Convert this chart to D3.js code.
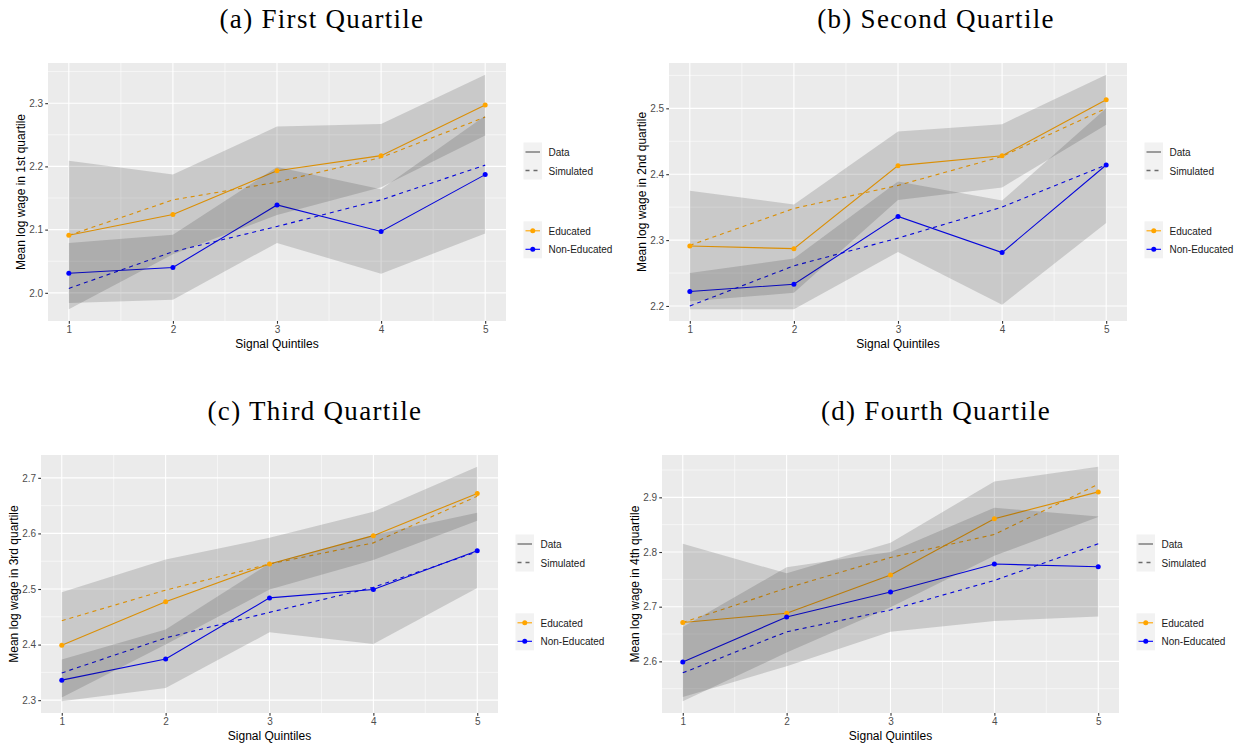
<!DOCTYPE html>
<html>
<head>
  <meta charset="utf-8">
  <script src="https://d3js.org/d3.v7.min.js"></script>
  <style>
    body { margin: 0; background: #fff; }
    text { font-family: "Liberation Sans", Arial, sans-serif; }
    .title { font-family: "Liberation Serif", "Times New Roman", serif; letter-spacing: 1.3px; }
  </style>
</head>
<body>
<script>
  "use strict";

  var quintiles = [1, 2, 3, 4, 5];

  // (a) first quartile
  var q1Ticks   = [2.0, 2.1, 2.2, 2.3];
  var q1EduData = [2.091, 2.124, 2.193, 2.217, 2.297];
  var q1EduSim  = [2.091, 2.147, 2.175, 2.214, 2.278];
  var q1NonData = [2.031, 2.040, 2.139, 2.097, 2.187];
  var q1NonSim  = [2.007, 2.065, 2.105, 2.147, 2.202];
  var q1EduLo   = [1.974, 2.061, 2.123, 2.167, 2.249];
  var q1EduHi   = [2.209, 2.187, 2.263, 2.267, 2.345];
  var q1NonLo   = [1.984, 1.989, 2.079, 2.030, 2.094];
  var q1NonHi   = [2.079, 2.092, 2.199, 2.164, 2.280];

  // (b) second quartile
  var q2Ticks   = [2.2, 2.3, 2.4, 2.5];
  var q2EduData = [2.291, 2.287, 2.413, 2.428, 2.513];
  var q2EduSim  = [2.292, 2.348, 2.383, 2.427, 2.500];
  var q2NonData = [2.222, 2.233, 2.336, 2.281, 2.414];
  var q2NonSim  = [2.200, 2.261, 2.303, 2.350, 2.414];
  var q2EduLo   = [2.207, 2.220, 2.361, 2.380, 2.475];
  var q2EduHi   = [2.375, 2.354, 2.465, 2.476, 2.551];
  var q2NonLo   = [2.195, 2.195, 2.282, 2.202, 2.326];
  var q2NonHi   = [2.250, 2.272, 2.389, 2.360, 2.500];

  // (c) third quartile
  var q3Ticks   = [2.3, 2.4, 2.5, 2.6, 2.7];
  var q3EduData = [2.399, 2.477, 2.545, 2.596, 2.672];
  var q3EduSim  = [2.443, 2.498, 2.545, 2.583, 2.667];
  var q3NonData = [2.336, 2.374, 2.484, 2.499, 2.569];
  var q3NonSim  = [2.349, 2.412, 2.458, 2.503, 2.567];
  var q3EduLo   = [2.305, 2.400, 2.499, 2.552, 2.623];
  var q3EduHi   = [2.494, 2.553, 2.592, 2.639, 2.720];
  var q3NonLo   = [2.298, 2.322, 2.422, 2.401, 2.502];
  var q3NonHi   = [2.373, 2.427, 2.546, 2.597, 2.637];

  // (d) fourth quartile
  var q4Ticks   = [2.6, 2.7, 2.8, 2.9];
  var q4EduData = [2.671, 2.688, 2.758, 2.861, 2.910];
  var q4EduSim  = [2.671, 2.734, 2.790, 2.832, 2.924];
  var q4NonData = [2.599, 2.681, 2.727, 2.778, 2.773];
  var q4NonSim  = [2.579, 2.654, 2.694, 2.748, 2.815];
  var q4EduLo   = [2.527, 2.616, 2.699, 2.793, 2.864];
  var q4EduHi   = [2.815, 2.761, 2.817, 2.929, 2.956];
  var q4NonLo   = [2.535, 2.591, 2.654, 2.674, 2.682];
  var q4NonHi   = [2.663, 2.772, 2.800, 2.881, 2.865];

  var eduColor = "#FFA500",
      nonColor = "#0000FF";

  var panels = [
    { title: "(a) First Quartile", ylab: "Mean log wage in 1st quartile",
      left: 48, right: 506, top: 63, bottom: 321, titleX: 322, titleY: 28,
      ticks: q1Ticks, eduData: q1EduData, eduSim: q1EduSim, nonData: q1NonData, nonSim: q1NonSim,
      eduLo: q1EduLo, eduHi: q1EduHi, nonLo: q1NonLo, nonHi: q1NonHi },
    { title: "(b) Second Quartile", ylab: "Mean log wage in 2nd quartile",
      left: 669, right: 1127, top: 63, bottom: 321, titleX: 936, titleY: 28,
      ticks: q2Ticks, eduData: q2EduData, eduSim: q2EduSim, nonData: q2NonData, nonSim: q2NonSim,
      eduLo: q2EduLo, eduHi: q2EduHi, nonLo: q2NonLo, nonHi: q2NonHi },
    { title: "(c) Third Quartile", ylab: "Mean log wage in 3rd quartile",
      left: 41, right: 498, top: 455, bottom: 713, titleX: 315, titleY: 420,
      ticks: q3Ticks, eduData: q3EduData, eduSim: q3EduSim, nonData: q3NonData, nonSim: q3NonSim,
      eduLo: q3EduLo, eduHi: q3EduHi, nonLo: q3NonLo, nonHi: q3NonHi },
    { title: "(d) Fourth Quartile", ylab: "Mean log wage in 4th quartile",
      left: 662, right: 1119, top: 455, bottom: 713, titleX: 936, titleY: 420,
      ticks: q4Ticks, eduData: q4EduData, eduSim: q4EduSim, nonData: q4NonData, nonSim: q4NonSim,
      eduLo: q4EduLo, eduHi: q4EduHi, nonLo: q4NonLo, nonHi: q4NonHi }
  ];

  var svg = d3.select("body")
    .append("svg")
      .attr("width", 1239)
      .attr("height", 744);

  panels.forEach(drawPanel);

  function drawPanel(p) {
    var x = d3.scaleLinear().domain([0.8, 5.2]).range([p.left, p.right]);

    // ggplot style 5% expansion around the ribbons
    var lo = d3.min(p.eduLo.concat(p.nonLo)),
        hi = d3.max(p.eduHi.concat(p.nonHi)),
        pad = (hi - lo) * 0.05;
    var y = d3.scaleLinear().domain([lo - pad, hi + pad]).range([p.bottom, p.top]);

    var g = svg.append("g");

    g.append("rect")
      .attr("x", p.left).attr("y", p.top)
      .attr("width", p.right - p.left).attr("height", p.bottom - p.top)
      .attr("fill", "#EBEBEB");

    // grid lines
    var ymin = y.domain()[0], ymax = y.domain()[1];
    var minorY = p.ticks.map(function(t) { return t - 0.05; })
      .concat([p.ticks[p.ticks.length - 1] + 0.05])
      .filter(function(v) { return v > ymin && v < ymax; });
    var minorX = [1.5, 2.5, 3.5, 4.5];

    g.selectAll(".minory").data(minorY).enter().append("line")
      .attr("x1", p.left).attr("x2", p.right)
      .attr("y1", function(d) { return y(d); }).attr("y2", function(d) { return y(d); })
      .attr("stroke", "#fff").attr("stroke-width", 0.55);
    g.selectAll(".minorx").data(minorX).enter().append("line")
      .attr("y1", p.top).attr("y2", p.bottom)
      .attr("x1", function(d) { return x(d); }).attr("x2", function(d) { return x(d); })
      .attr("stroke", "#fff").attr("stroke-width", 0.55);
    g.selectAll(".majory").data(p.ticks).enter().append("line")
      .attr("x1", p.left).attr("x2", p.right)
      .attr("y1", function(d) { return y(d); }).attr("y2", function(d) { return y(d); })
      .attr("stroke", "#fff").attr("stroke-width", 1.1);
    g.selectAll(".majorx").data(quintiles).enter().append("line")
      .attr("y1", p.top).attr("y2", p.bottom)
      .attr("x1", function(d) { return x(d); }).attr("x2", function(d) { return x(d); })
      .attr("stroke", "#fff").attr("stroke-width", 1.1);

    // lines first, ribbons drawn over them, points last
    var line = d3.line()
      .x(function(d, i) { return x(quintiles[i]); })
      .y(function(d) { return y(d); });

    var series = [
      { v: p.eduSim, c: eduColor, dash: "4,4" },
      { v: p.nonSim, c: nonColor, dash: "4,4" },
      { v: p.eduData, c: eduColor, dash: null, pts: true },
      { v: p.nonData, c: nonColor, dash: null, pts: true }
    ];
    series.forEach(function(s) {
      g.append("path")
        .datum(s.v)
        .attr("d", line)
        .attr("fill", "none")
        .attr("stroke", s.c)
        .attr("stroke-width", 1.1)
        .attr("stroke-dasharray", s.dash);
    });

    var bands = [[p.eduLo, p.eduHi], [p.nonLo, p.nonHi]];
    var area = d3.area()
      .x(function(d, i) { return x(quintiles[i]); })
      .y0(function(d) { return y(d[0]); })
      .y1(function(d) { return y(d[1]); });
    bands.forEach(function(b) {
      g.append("path")
        .datum(b[0].map(function(v, i) { return [v, b[1][i]]; }))
        .attr("d", area)
        .attr("fill", "#222")
        .attr("fill-opacity", 0.17);
    });

    series.filter(function(s) { return s.pts; }).forEach(function(s) {
      g.selectAll(null).data(s.v).enter().append("circle")
        .attr("cx", function(d, i) { return x(quintiles[i]); })
        .attr("cy", function(d) { return y(d); })
        .attr("r", 2.5)
        .attr("fill", s.c);
    });

    // axes
    var yAxis = d3.axisLeft(y).tickValues(p.ticks).tickSize(2.75).tickPadding(2.2)
      .tickFormat(d3.format(".1f"));
    var xAxis = d3.axisBottom(x).tickValues(quintiles).tickSize(2.75).tickPadding(2.2)
      .tickFormat(d3.format("d"));

    [g.append("g").attr("transform", "translate(" + p.left + ",0)").call(yAxis),
     g.append("g").attr("transform", "translate(0," + p.bottom + ")").call(xAxis)]
      .forEach(function(a) {
        a.select(".domain").remove();
        a.selectAll(".tick line").attr("stroke", "#333333").attr("stroke-width", 1.1);
        a.selectAll(".tick text").attr("fill", "#4D4D4D").attr("font-size", 10)
          .attr("font-family", "Liberation Sans, Arial, sans-serif");
      });

    g.append("text")
      .attr("x", (p.left + p.right) / 2).attr("y", p.bottom + 26.5)
      .attr("text-anchor", "middle").attr("font-size", 12)
      .text("Signal Quintiles");

    g.append("text")
      .attr("transform", "translate(" + (p.left - 23.5) + "," + ((p.top + p.bottom) / 2) + ") rotate(-90)")
      .attr("text-anchor", "middle").attr("font-size", 12)
      .text(p.ylab);

    g.append("text")
      .attr("class", "title")
      .attr("x", p.titleX).attr("y", p.titleY)
      .attr("text-anchor", "middle").attr("font-size", 27)
      .text(p.title);

    // legends
    var lx = p.right + 17.5;
    var lt = g.append("g").attr("transform", "translate(" + lx + "," + (p.top + 79.5) + ")");
    lt.append("rect").attr("width", 18.5).attr("height", 37).attr("fill", "#F2F2F2");
    lt.selectAll(null).data(["Data", "Simulated"]).enter().append("line")
      .attr("x1", 2).attr("x2", 16.5)
      .attr("y1", function(d, i) { return 9.5 + i * 18.5; })
      .attr("y2", function(d, i) { return 9.5 + i * 18.5; })
      .attr("stroke", "#6b6b6b").attr("stroke-width", 1.3)
      .attr("stroke-dasharray", function(d) { return d == "Data" ? null : "4,4"; });
    lt.selectAll(null).data(["Data", "Simulated"]).enter().append("text")
      .attr("x", 25).attr("y", function(d, i) { return 13.5 + i * 18.5; })
      .attr("font-size", 10).attr("fill", "#1a1a1a")
      .text(function(d) { return d; });

    var lc = g.append("g").attr("transform", "translate(" + lx + "," + (p.top + 158.3) + ")");
    lc.append("rect").attr("width", 18.5).attr("height", 37).attr("fill", "#F2F2F2");
    var groups = [["Educated", eduColor], ["Non-Educated", nonColor]];
    lc.selectAll(null).data(groups).enter().append("line")
      .attr("x1", 2).attr("x2", 16.5)
      .attr("y1", function(d, i) { return 9.5 + i * 18.5; })
      .attr("y2", function(d, i) { return 9.5 + i * 18.5; })
      .attr("stroke", function(d) { return d[1]; }).attr("stroke-width", 1.1);
    lc.selectAll(null).data(groups).enter().append("circle")
      .attr("cx", 9.25).attr("cy", function(d, i) { return 9.5 + i * 18.5; })
      .attr("r", 2.5).attr("fill", function(d) { return d[1]; });
    lc.selectAll(null).data(groups).enter().append("text")
      .attr("x", 25).attr("y", function(d, i) { return 13.5 + i * 18.5; })
      .attr("font-size", 10).attr("fill", "#1a1a1a")
      .text(function(d) { return d[0]; });
  }
</script>
</body>
</html>
